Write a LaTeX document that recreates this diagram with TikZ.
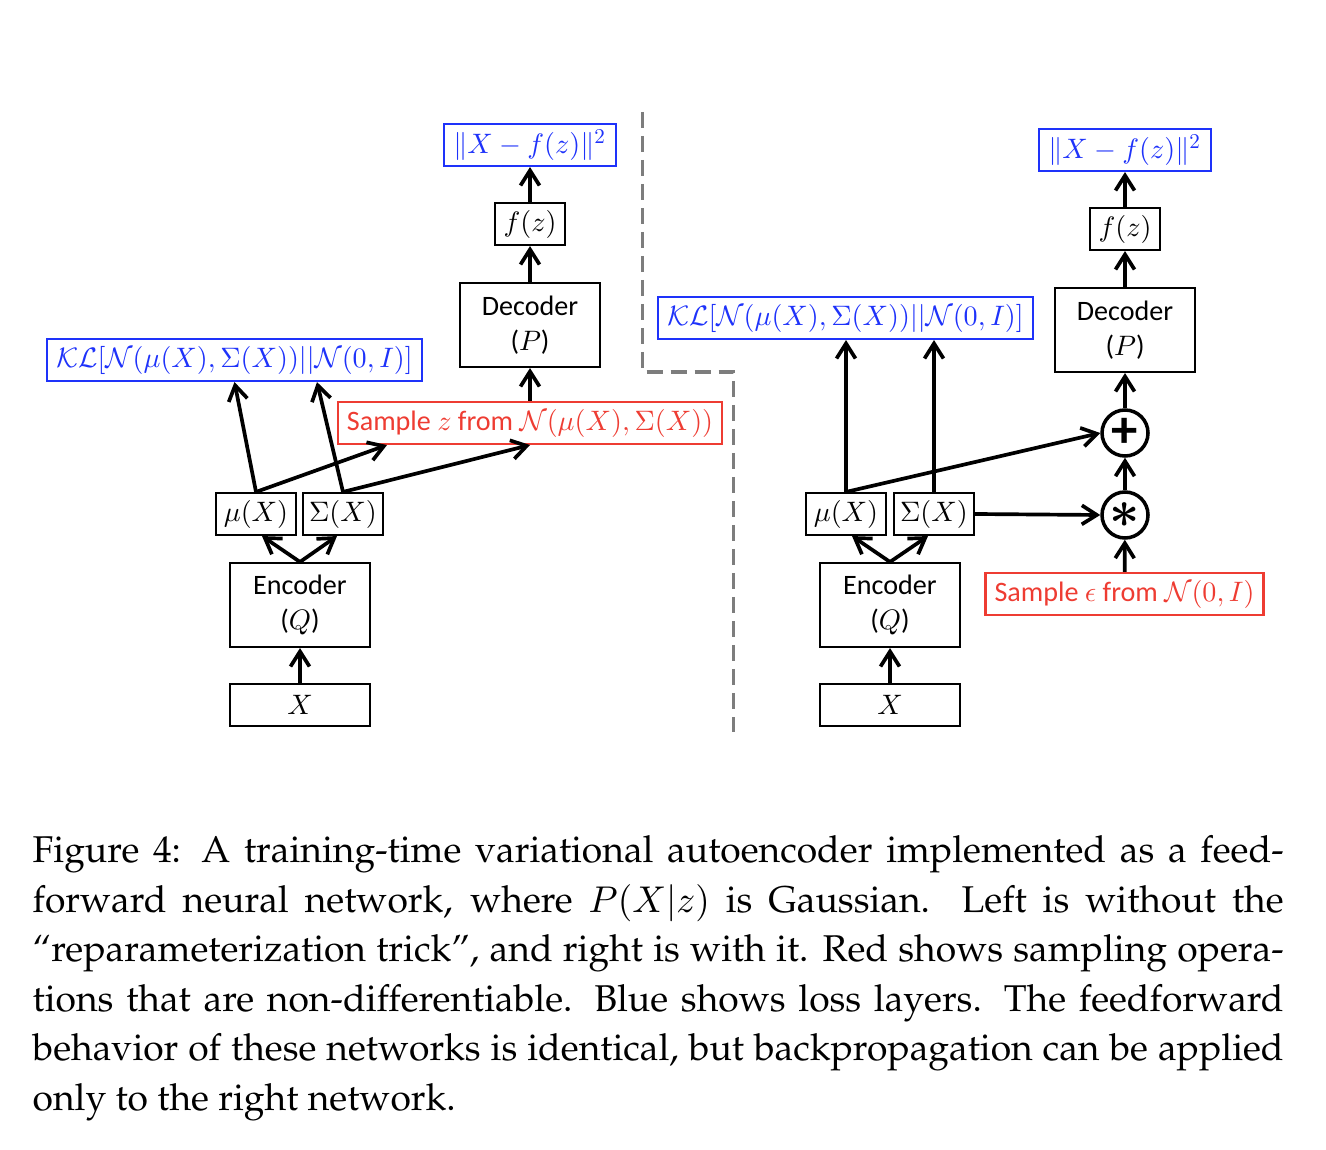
\RequirePackage{fix-cm}
\documentclass[tikz,border=0pt]{standalone}
\usepackage[T1]{fontenc}
\usepackage{fontspec}
\setsansfont{Carlito}
\usepackage{tikz}
\usetikzlibrary{arrows.meta, positioning}
\usepackage{xcolor}

% math in the 10pt design at every size
\DeclareFontShape{OML}{cmm}{m}{it}{<->cmmi10}{}
\DeclareFontShape{OMS}{cmsy}{m}{n}{<->cmsy10}{}
\DeclareFontShape{OT1}{cmr}{m}{n}{<->cmr10}{}

\definecolor{lossblue}{RGB}{30,50,250}
\definecolor{samplered}{RGB}{238,60,50}
\definecolor{sepgray}{RGB}{125,125,125}
\newcommand{\figcapfont}{\fontsize{10.6}{14.1}\usefont{T1}{ppl}{m}{n}}

\begin{document}
\begin{tikzpicture}[auto, >={Straight Barb[length=1.5mm, width=1.9mm]}]
	\tikzstyle{block} = [draw=black, semithick, inner sep=0pt, font=\sffamily\fontsize{8}{9.8}\selectfont, align=center]
	\tikzstyle{small} = [block, minimum height=0.42cm]
	\tikzstyle{big} = [block, minimum width=1.4cm, minimum height=0.84cm]
	\tikzstyle{loss} = [small, draw=lossblue, text=lossblue, inner xsep=0.9mm]
	\tikzstyle{sample} = [small, draw=samplered, text=samplered, inner xsep=0.9mm]
	\tikzstyle{opnode} = [draw=black, line width=1pt, circle, minimum size=0.46cm, inner sep=0pt]
	\tikzstyle{link} = [->, line width=1.05pt]

	\useasboundingbox (0,0) rectangle (13.26,-11.5);

	% left: without the trick
	\node[loss]                        at (5.30, -1.45)  (recl)  {$\|X-f(z)\|^2$};
	\node[small, minimum width=0.7cm]  at (5.30, -2.24)  (fzl)   {$f(z)$};
	\node[big]                         at (5.30, -3.25)  (decl)  {Decoder\\($P$)};
	\node[loss]                        at (2.345, -3.60) (kll)   {$\mathcal{KL}[\mathcal{N}(\mu(X),\Sigma(X))||\mathcal{N}(0,I)]$};
	\node[sample]                      at (5.30, -4.23)  (sampl) {Sample $z$ from $\mathcal{N}(\mu(X),\Sigma(X))$};
	\node[small, minimum width=0.8cm]  at (2.56, -5.14)  (mul)   {$\mu(X)$};
	\node[small, minimum width=0.8cm]  at (3.43, -5.14)  (sigl)  {$\Sigma(X)$};
	\node[big]                         at (3.00, -6.05)  (encl)  {Encoder\\($Q$)};
	\node[small, minimum width=1.4cm]  at (3.00, -7.05)  (xl)    {$X$};

	\path[link]
	(xl)         edge (encl)
	(encl.north) edge ([xshift=0.6mm]mul.south)
	(encl.north) edge ([xshift=-0.6mm]sigl.south)
	(mul.north)  edge (kll.south)
	(mul.north)  edge ([xshift=-14.3mm]sampl.south)
	(sigl.north) edge ([xshift=8.25mm]kll.south)
	(sigl.north) edge (sampl.south)
	(sampl)      edge (decl)
	(decl)       edge (fzl)
	(fzl)        edge (recl);

	% separator
	\draw[sepgray, line width=1.1pt, dash pattern=on 1.6mm off 0.8mm]
	(6.425, -1.12) -- (6.425, -3.72) -- (7.335, -3.72) -- (7.335, -7.32);

	% right: with the trick
	\node[loss]                        at (11.25, -1.50) (recr)  {$\|X-f(z)\|^2$};
	\node[small, minimum width=0.7cm]  at (11.25, -2.29) (fzr)   {$f(z)$};
	\node[big]                         at (11.25, -3.30) (decr)  {Decoder\\($P$)};
	\node[loss]                        at (8.455, -3.18) (klr)   {$\mathcal{KL}[\mathcal{N}(\mu(X),\Sigma(X))||\mathcal{N}(0,I)]$};
	\node[opnode, font=\sffamily\bfseries\fontsize{15}{15}\selectfont] at (11.25, -4.33) (addop)  {+};
	\node[opnode, font=\fontsize{15}{16}\selectfont\boldmath] at (11.25, -5.15) (mulop)  {$\ast$};
	\node[small, minimum width=0.8cm]  at (8.46, -5.14)  (mur)   {$\mu(X)$};
	\node[small, minimum width=0.8cm]  at (9.34, -5.14)  (sigr)  {$\Sigma(X)$};
	\node[big]                         at (8.90, -6.05)  (encr)  {Encoder\\($Q$)};
	\node[small, minimum width=1.4cm]  at (8.90, -7.05)  (xr)    {$X$};
	\node[sample]                      at (11.245, -5.94) (sampr) {Sample $\epsilon$ from $\mathcal{N}(0,I)$};

	\path[link]
	(xr)         edge (encr)
	(encr.north) edge ([xshift=0.6mm]mur.south)
	(encr.north) edge ([xshift=-0.6mm]sigr.south)
	(mur.north)  edge (mur.north |- klr.south)
	(sigr.north) edge (sigr.north |- klr.south)
	(mur.north)  edge (addop.west)
	(sigr.east)  edge (mulop.west)
	(sampr)      edge (mulop)
	(mulop)      edge (addop)
	(addop)      edge (decr)
	(decr)       edge (fzr)
	(fzr)        edge (recr);

	% caption
	\node[anchor=north west, inner sep=0pt, text width=12.51cm, align=justify, font=\figcapfont]
	at (0.32, -8.35) (cap) {Figure 4: A training-time variational autoencoder implemented as a feed-\linebreak
	forward neural network, where $P(X|z)$ is Gaussian.  Left is without the\linebreak
	``reparameterization trick'', and right is with it. Red shows sampling opera-\linebreak
	tions that are non-differentiable. Blue shows loss layers. The feedforward\linebreak
	behavior of these networks is identical, but backpropagation can be applied\linebreak
	only to the right network.};
\end{tikzpicture}
\end{document}
